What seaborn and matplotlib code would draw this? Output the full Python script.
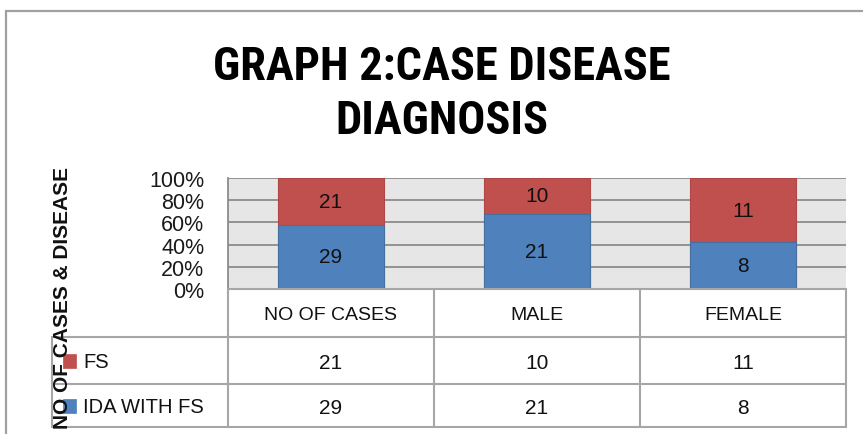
import matplotlib
matplotlib.use("Agg")
import matplotlib.pyplot as plt
import matplotlib.transforms as mtransforms
from matplotlib import font_manager
import seaborn as sns
import pandas as pd

categories = ["NO OF CASES", "MALE", "FEMALE"]
fs_values = [21, 10, 11]
ida_values = [29, 21, 8]
series_names = ["FS", "IDA WITH FS"]
tick_labels = ["0%", "20%", "40%", "60%", "80%", "100%"]
title_text = "GRAPH 2:CASE DISEASE\nDIAGNOSIS"
ylabel_text = "NO OF CASES & DISEASE"

RED = "#C0504D"
BLUE = "#4F81BD"

sns.set_theme(style="white")
available = {f.name for f in font_manager.fontManager.ttflist}

def pick(cands):
    for c in cands:
        if c in available:
            return c
    return "DejaVu Sans"

body_font = pick(["Liberation Sans", "Arimo", "Noto Sans"])
title_font = pick(["Liberation Sans Narrow", "Roboto Condensed", "Liberation Sans"])
plt.rcParams["font.family"] = [body_font, "DejaVu Sans"]

df = pd.DataFrame({
    "category": categories,
    "fs": fs_values,
    "ida": ida_values,
})
df["total"] = df["fs"] + df["ida"]
df["ida_pct"] = df["ida"] / df["total"] * 100
df["total_pct"] = df["total"] / df["total"] * 100

W, H = 863, 435
fig = plt.figure(figsize=(W / 100, H / 100), dpi=100)

def fx(px):
    return px / W

def fy(py):
    return 1 - py / H

left, right, top, bottom = 228, 846, 179, 290
ax = fig.add_axes([fx(left), fy(bottom), fx(right - left), (bottom - top) / H])
ax.set_facecolor("#E6E6E6")

sns.barplot(data=df, x="category", y="total_pct", color=RED, width=0.51,
            saturation=1, edgecolor="#B04744", linewidth=0.8, ax=ax, zorder=3)
sns.barplot(data=df, x="category", y="ida_pct", color=BLUE, width=0.51,
            saturation=1, edgecolor="#44709F", linewidth=0.8, ax=ax, zorder=4)

ax.set_ylim(0, 100)
ax.set_xlim(-0.5, len(categories) - 0.5)
ax.set_yticks([0, 20, 40, 60, 80, 100])
ax.set_yticklabels(tick_labels, fontsize=15.5, color="#1a1a1a")
ax.tick_params(axis="y", length=0, pad=17)
ax.set_xticks([])
ax.set_xlabel("")
ax.set_ylabel("")
ax.yaxis.grid(True, color="#8C8C8C", linewidth=1.3, zorder=1)
ax.set_axisbelow(True)
for s in ["top", "right", "bottom"]:
    ax.spines[s].set_visible(False)
ax.spines["left"].set_color("#8C8C8C")
ax.spines["left"].set_linewidth(1.3)

# segment labels
for i, (f, d) in enumerate(zip(fs_values, ida_values)):
    tot = f + d
    ax.text(i, d / tot * 50, str(d), ha="center", va="center", fontsize=15, color="#111111", zorder=6)
    ax.text(i, d / tot * 100 + f / tot * 50, str(f), ha="center", va="center", fontsize=15, color="#111111", zorder=6)

# overlay for table / frame
ov = fig.add_axes([0, 0, 1, 1], zorder=5)
ov.set_xlim(0, W)
ov.set_ylim(H, 0)
ov.axis("off")
ov.patch.set_alpha(0)

line_c = "#A6A6A6"
lw = 1.5
# outer chart frame
ov.plot([6, W], [12, 12], color="#A0A0A0", lw=1.6)
ov.plot([6, 6], [12, H], color="#A0A0A0", lw=1.6)

row_y = [290, 338, 385, 428]
ov.plot([left, right], [row_y[0], row_y[0]], color=line_c, lw=lw)
for yy in row_y[1:]:
    ov.plot([52, right], [yy, yy], color=line_c, lw=lw)
ov.plot([52, 52], [row_y[1], row_y[3]], color=line_c, lw=lw)
colw = (right - left) / len(categories)
for k in range(len(categories) + 1):
    xx = left + k * colw
    ov.plot([xx, xx], [row_y[0], row_y[3]], color=line_c, lw=lw)

# table text, x from category scale
btrans = mtransforms.blended_transform_factory(ax.transData, ov.transData)
row_mid = [(row_y[i] + row_y[i + 1]) / 2 for i in range(3)]
for i, cat in enumerate(categories):
    ov.text(i, row_mid[0] + 2, cat, transform=btrans, ha="center", va="center", fontsize=14, color="#111111")
    ov.text(i, row_mid[1] + 2, str(fs_values[i]), transform=btrans, ha="center", va="center", fontsize=15, color="#111111")
    ov.text(i, row_mid[2] + 2, str(ida_values[i]), transform=btrans, ha="center", va="center", fontsize=15, color="#111111")

# legend keys in table
for yy, name, col in [(row_mid[1], series_names[0], RED), (row_mid[2], series_names[1], BLUE)]:
    ov.add_patch(plt.Rectangle((63, yy - 7), 13, 14, facecolor=col, edgecolor=col, lw=0.5))
    ov.text(83, yy + 1, name, ha="left", va="center", fontsize=14.5, color="#111111")

# y label
ov.text(62, 298, ylabel_text, rotation=90, ha="center", va="center",
        fontsize=15, fontweight="bold", color="#111111")

# title
ov.text(442, 94, title_text, ha="center", va="center", fontsize=33.5,
        fontweight="bold", color="#000000", linespacing=1.3, family=[title_font, "DejaVu Sans"])

fig.savefig("out.png", dpi=100)
